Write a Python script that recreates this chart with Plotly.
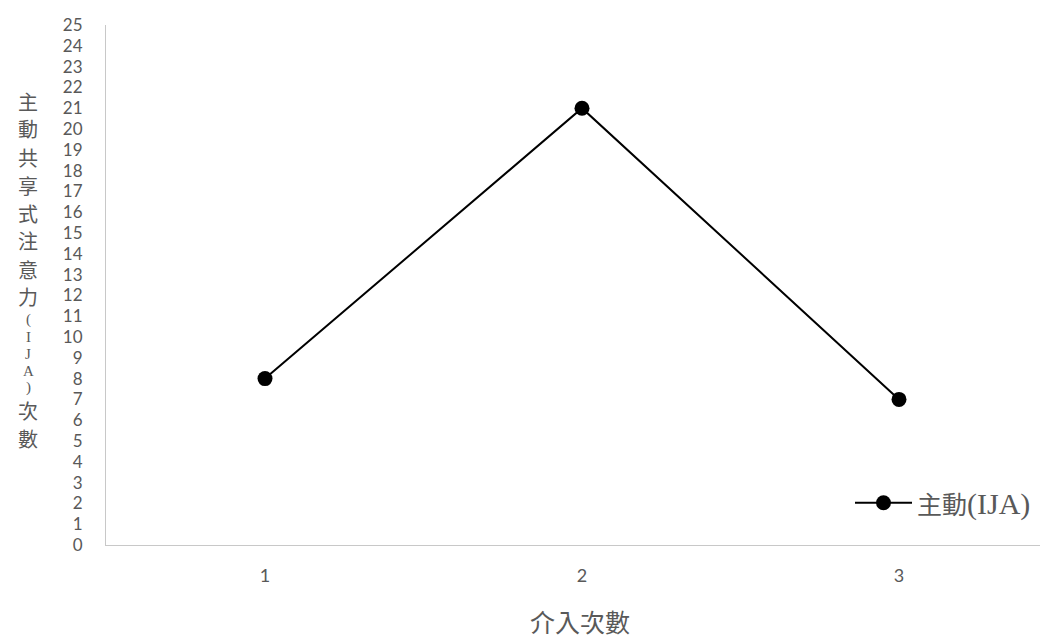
import plotly.graph_objects as go

categories = ["1", "2", "3"]
values = [8, 21, 7]
series_cjk = "主動"
series_latin = "(IJA)"
y_ticks = list(range(0, 26))
x_title = "介入次數"
y_title_chars = list("主動共享式注意力(IJA)次數")

GRAY = "#595959"
SERIF = "Liberation Serif, Noto Sans CJK TC, serif"
CJK = "Noto Sans CJK TC, sans-serif"
SANS = "Lato, Open Sans, sans-serif"

# The page body has an 8px margin; work in reference pixels and offset.
OFF = 8
W, H = 1048 - OFF, 640 - OFF
plot_left, plot_top, plot_bottom, plot_right = 106, 25, 545, 1048  # reference px
L = plot_left - OFF
T = plot_top - OFF
B = H - (plot_bottom - OFF)
R = 0
plot_w = plot_right - plot_left
plot_h = plot_bottom - plot_top

def px_x(x):
    return (x - plot_left) / plot_w

def px_y(y):
    return (plot_bottom - y) / plot_h

legend_name = (f'<span style="font-family:{CJK};font-size:25px">{series_cjk}</span>'
               f'<span style="font-size:30px">{series_latin}</span>')

fig = go.Figure()
fig.add_trace(go.Scatter(
    x=[0, 1, 2], y=values, mode="lines+markers", name=legend_name,
    line=dict(color="black", width=2),
    marker=dict(color="black", size=15, symbol="circle"),
))

fig.update_layout(
    width=W, height=H,
    margin=dict(l=L, r=R, t=T, b=B),
    plot_bgcolor="white", paper_bgcolor="white",
    showlegend=True,
    legend=dict(x=px_x(850), y=px_y(503), xanchor="left", yanchor="middle",
                font=dict(family=SERIF, size=28, color=GRAY),
                bgcolor="rgba(0,0,0,0)", itemwidth=57),
    xaxis=dict(
        range=[(plot_left - 265) / 317, (plot_right - 265) / 317],
        tickmode="array", tickvals=[0, 1, 2], ticktext=categories,
        showgrid=False, zeroline=False, showline=True, linecolor="#c8c8c8", linewidth=1,
        ticks="", tickfont=dict(family=SANS, size=18, color=GRAY), ticklabelstandoff=14,
    ),
    yaxis=dict(
        range=[0, 25], tickmode="array", tickvals=y_ticks,
        showgrid=False, zeroline=False, showline=True, linecolor="#c8c8c8", linewidth=1,
        ticks="", tickfont=dict(family=SANS, size=17, color=GRAY), ticklabelstandoff=19,
    ),
)

# x-axis title
fig.add_annotation(text=x_title, xref="paper", yref="paper",
                   x=px_x(580), y=px_y(621),
                   showarrow=False, xanchor="center", yanchor="middle",
                   font=dict(family=CJK, size=25, color=GRAY))

# vertical y-axis title, stacked characters
cy = 101.0
prev_h = None
for ch in y_title_chars:
    is_cjk = ord(ch) > 0x2E80
    h = 28.0 if is_cjk else 17.0
    if prev_h is not None:
        cy += (prev_h + h) / 2
    prev_h = h
    fig.add_annotation(text=ch, xref="paper", yref="paper",
                       x=px_x(28), y=px_y(cy),
                       showarrow=False, xanchor="center", yanchor="middle",
                       font=dict(family=CJK if is_cjk else SERIF,
                                 size=20 if is_cjk else 15, color=GRAY))

fig.write_html("out.html")
